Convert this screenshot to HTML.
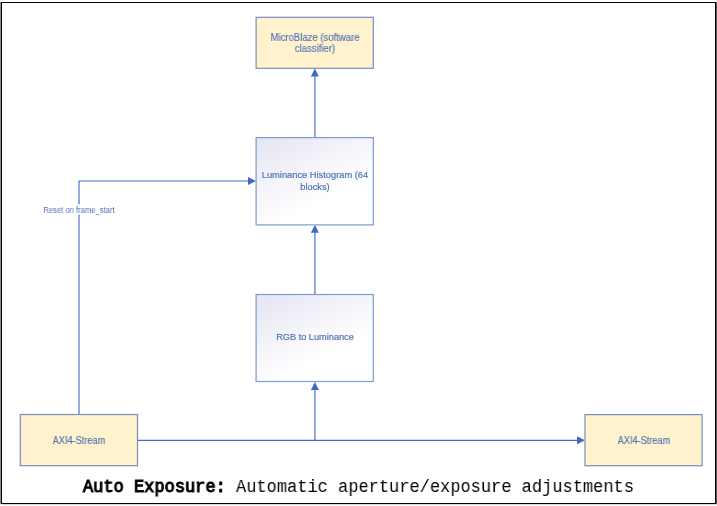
<!DOCTYPE html>
<html><head><meta charset="utf-8">
<style>
html,body{margin:0;padding:0;background:#fff;width:717px;height:506px;overflow:hidden;position:relative}
svg{position:absolute;left:0;top:0}
.t{position:absolute;text-align:center;font-family:"Liberation Sans",sans-serif;color:#5272b6;font-size:10.2px;line-height:12px;white-space:nowrap;transform:scaleX(0.9);will-change:transform;-webkit-text-stroke:0.15px #5272b6}
.lbl{position:absolute;font-family:"Liberation Sans",sans-serif;font-size:8.3px;color:#5272b6;line-height:10px;white-space:nowrap;text-align:center;transform:scaleX(0.9);will-change:transform}
.cap{position:absolute;left:0;width:717px;top:477px;text-align:center;font-family:"Liberation Mono",monospace;font-size:18.5px;line-height:22px;color:#000;white-space:nowrap;transform:scaleX(0.919);transform-origin:358px 0;will-change:transform}
.cap b{font-weight:normal;-webkit-text-stroke:1.1px #000}
</style></head><body>
<svg width="717" height="506" viewBox="0 0 717 506">
<defs>
<linearGradient id="gr1" gradientUnits="userSpaceOnUse" x1="256" y1="137.6" x2="294" y2="213.6">
<stop offset="0" stop-color="#e4e4f3"/>
<stop offset="1" stop-color="#ffffff"/>
</linearGradient>
<linearGradient id="gr2" gradientUnits="userSpaceOnUse" x1="256" y1="294.5" x2="294" y2="370.5">
<stop offset="0" stop-color="#e4e4f3"/>
<stop offset="1" stop-color="#ffffff"/>
</linearGradient>
</defs>
<!-- outer frame -->
<rect x="0" y="2" width="1" height="502" fill="#8c8c8c"/>
<rect x="716" y="2" width="1" height="502" fill="#565656"/>
<rect x="1" y="504" width="716" height="1" fill="#d8d8d8"/>
<rect x="1.5" y="2.5" width="714" height="501" fill="none" stroke="#000" stroke-width="1"/>
<!-- lines -->
<g stroke="#446ec4" stroke-width="1.15" fill="none">
<path d="M137.5 440.3H578"/>
<path d="M314.9 440.3V389"/>
<path d="M314.9 294.5V232"/>
<path d="M314.9 137.6V76"/>
<path d="M79 414.5V181H248"/>
</g>
<g fill="#3f69c4">
<path d="M585 440.2L577 436.2L577 444.2Z"/>
<path d="M314.9 382L310.9 390L318.9 390Z"/>
<path d="M314.9 224.8L310.9 232.8L318.9 232.8Z"/>
<path d="M314.9 68.4L310.9 76.4L318.9 76.4Z"/>
<path d="M256 181L248 177L248 185Z"/>
</g>
<!-- boxes -->
<g stroke="#7390c3" stroke-width="1.2">
<rect x="256.1" y="17.3" width="117.2" height="51" fill="#fff2cc"/>
<rect x="256.1" y="137.6" width="117.2" height="87.3" fill="url(#gr1)" stroke="#7d9bd2"/>
<rect x="256.1" y="294.5" width="117.2" height="87" fill="url(#gr2)" stroke="#7d9bd2"/>
<rect x="20.3" y="414.5" width="117.2" height="51.2" fill="#fff2cc"/>
<rect x="585" y="414.6" width="117.1" height="51.1" fill="#fff2cc"/>
</g>
<!-- label bg -->
<rect x="43" y="204.4" width="72" height="10.2" fill="#fff"/>
</svg>
<div class="t" style="left:256px;width:118px;top:31.6px;line-height:11.2px;transform:scaleX(0.935)">MicroBlaze (software<br>classifier)</div>
<div class="t" style="left:256px;width:118px;top:169px;font-size:9.3px;transform:none;-webkit-text-stroke:0.2px #5272b6">Luminance Histogram (64<br>blocks)</div>
<div class="t" style="left:256px;width:118px;top:331.1px;font-size:9.2px;transform:none;-webkit-text-stroke:0.2px #5272b6">RGB to Luminance</div>
<div class="t" style="left:20px;width:118px;top:434.5px">AXI4-Stream</div>
<div class="t" style="left:585px;width:118px;top:434.5px">AXI4-Stream</div>
<div class="lbl" style="left:29px;width:100px;top:204.5px;transform:scaleX(0.92)">Reset on frame_start</div>
<div class="cap"><b>Auto Exposure:</b> Automatic aperture/exposure adjustments</div>
</body></html>
